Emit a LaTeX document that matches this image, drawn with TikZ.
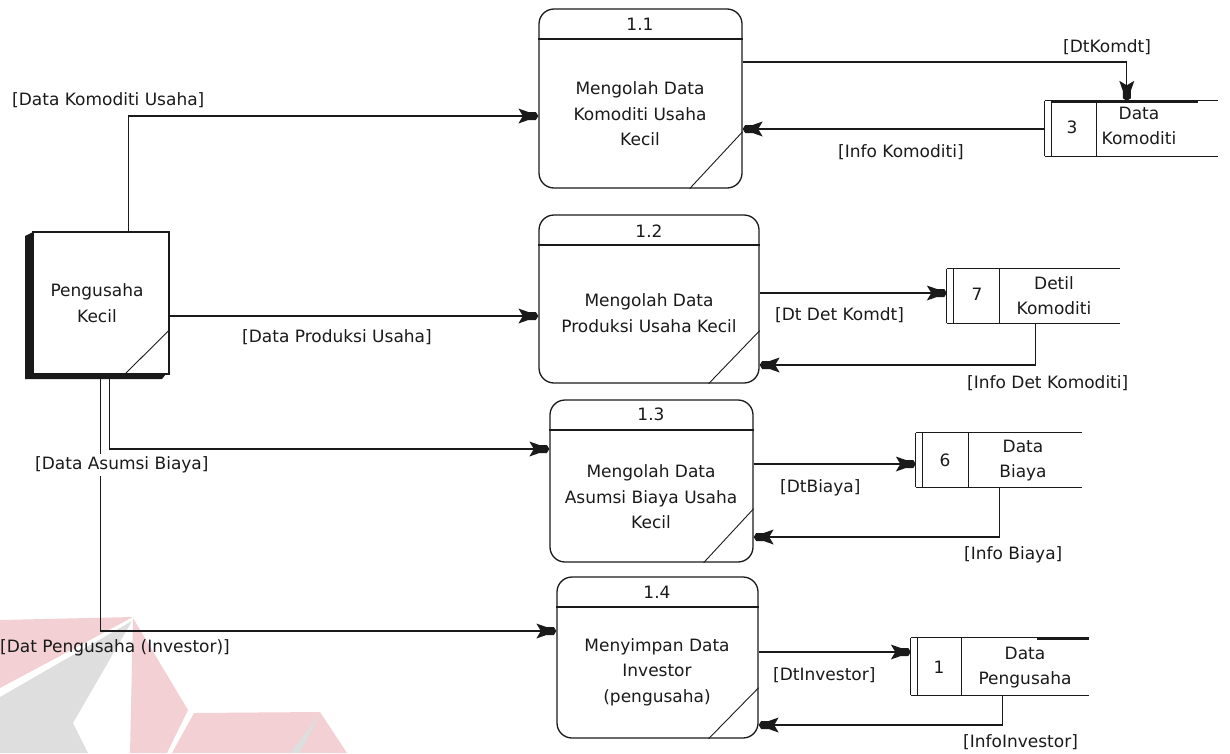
\documentclass[tikz,border=0pt]{standalone}
\usepackage{fontspec}
\setmainfont{DejaVu Sans}
\usetikzlibrary{arrows.meta}
\definecolor{ink}{HTML}{1A1A1A}
\definecolor{wmpink}{HTML}{F2D0D4}
\definecolor{wmgrey}{HTML}{DEDEDE}
% flow arrow tip: short thick body with flared barbs behind it
\pgfdeclarearrow{
  name = DFDTip,
  setup code = {
    \pgfarrowssettipend{0pt}
    \pgfarrowssetlineend{-7pt}
    \pgfarrowssetbackend{-20pt}
    \pgfarrowsupperhullpoint{0pt}{4pt}
    \pgfarrowsupperhullpoint{-20pt}{7.5pt}
  },
  drawing code = {
    \pgfpathmoveto{\pgfqpoint{0pt}{0pt}}
    \pgfpathlineto{\pgfqpoint{-2.5pt}{4pt}}
    \pgfpathlineto{\pgfqpoint{-10pt}{4pt}}
    \pgfpathlineto{\pgfqpoint{-20pt}{7.5pt}}
    \pgfpathlineto{\pgfqpoint{-15.5pt}{0pt}}
    \pgfpathlineto{\pgfqpoint{-20pt}{-7.5pt}}
    \pgfpathlineto{\pgfqpoint{-10pt}{-4pt}}
    \pgfpathlineto{\pgfqpoint{-2.5pt}{-4pt}}
    \pgfpathclose
    \pgfusepathqfill
  }
}
\tikzset{
  every node/.style={font=\fontsize{17}{25.5}\selectfont, text=ink, inner sep=0pt},
  proc/.style={draw=ink, line width=1.3pt, rounded corners=15pt, rectangle},
  entity/.style={draw=ink, line width=1.3pt, rectangle},
  store/.style={rectangle},
  flow/.style={draw=ink, line width=1.3pt, -DFDTip},
  edge/.style={draw=ink, line width=1.3pt},
  lbl/.style={anchor=west},
  ptext/.style={align=center}
}
% data store outline: open on the right, double left edge, divider after the number
\newcommand{\storeshape}[2]{%
  \draw[edge] (#1.north west) -- (#1.south west);
  \draw[edge] ([xshift=7]#1.north west) -- ([xshift=7]#1.south west);
  \draw[edge] (#1.north west) -- (#1.north east);
  \draw[edge] (#1.south west) -- (#1.south east);
  \draw[edge] ([xshift=#2]#1.north west) -- ([xshift=#2]#1.south west);
}
\begin{document}
\begin{tikzpicture}[x=1pt,y=-1pt]
\useasboundingbox (0,0) rectangle (1230,753);

% faint logo in the lower left corner
\fill[wmpink] (0,620) -- (133,617) -- (30,672) -- (0,688) -- cycle;
\fill[wmgrey] (0,697) -- (132,621) -- (73,723) -- (88,753) -- (0,753) -- cycle;
\fill[wmpink] (133,618) -- (188,710) -- (167,753) -- (130,753) -- cycle;
\fill[wmpink] (194,713) -- (320,712) -- (347,753) -- (172,753) -- cycle;
\fill[wmgrey] (320,714) -- (300,753) -- (290,753) -- cycle;

% external entity
\node[entity, minimum width=136, minimum height=142] (e) at (101,303) {};
\fill[ink] (25,236) -- (33,232) -- (33,374) -- (166,374) -- (162,379) -- (25,379) -- cycle;
\draw[edge, line width=0.9pt] ([xshift=92]e.south west) -- ([yshift=45]e.south east);
\node[ptext] (etxt) at (97,303) {Pengusaha\\Kecil};

% processes
\node[proc, minimum width=203, minimum height=179] (p1) at (640.5,98.5) {};
\node[proc, minimum width=220, minimum height=168] (p2) at (649,299) {};
\node[proc, minimum width=203, minimum height=162] (p3) at (651.5,481) {};
\node[proc, minimum width=201, minimum height=161] (p4) at (657.5,657.5) {};

\draw[edge] (p1.west |- 0,39) -- (p1.east |- 0,39);
\draw[edge] (p2.west |- 0,245) -- (p2.east |- 0,245);
\draw[edge] (p3.west |- 0,430) -- (p3.east |- 0,430);
\draw[edge] (p4.west |- 0,607) -- (p4.east |- 0,607);

\draw[edge, line width=0.9pt] ([xshift=-53]p1.south east) -- ([yshift=57]p1.south east);
\draw[edge, line width=0.9pt] ([xshift=-51]p2.south east) -- ([yshift=53]p2.south east);
\draw[edge, line width=0.9pt] ([xshift=-50]p3.south east) -- ([yshift=54]p3.south east);
\draw[edge, line width=0.9pt] ([xshift=-50]p4.south east) -- ([yshift=51]p4.south east);

\node (p1n) at (640,24) {1.1};
\node (p2n) at (649,231) {1.2};
\node (p3n) at (651,414) {1.3};
\node (p4n) at (657,592) {1.4};

\node[ptext] (p1t) at (640,114) {Mengolah Data\\Komoditi Usaha\\Kecil};
\node[ptext] (p2t) at (649,313) {Mengolah Data\\Produksi Usaha Kecil};
\node[ptext] (p3t) at (651,497) {Mengolah Data\\Asumsi Biaya Usaha\\Kecil};
\node[ptext] (p4t) at (657,672) {Menyimpan Data\\Investor\\(pengusaha)};

% data stores
\node[store, minimum width=173, minimum height=55] (s3) at (1131.5,128.5) {};
\node[store, minimum width=173, minimum height=54] (s7) at (1033.5,296) {};
\node[store, minimum width=166, minimum height=54] (s6) at (999,460) {};
\node[store, minimum width=178, minimum height=57] (s1) at (1000,666.5) {};
\storeshape{s3}{52}
\storeshape{s7}{53}
\storeshape{s6}{53}
\storeshape{s1}{51}
\fill[ink] (1051,99.5) rectangle (1198,102.5);
\fill[ink] (1037,636.5) rectangle (1089,639.5);

\node (s3n) at (1072,127) {3};
\node (s7n) at (977,294) {7};
\node (s6n) at (945,460) {6};
\node (s1n) at (939,667) {1};
\node[ptext] (s3t) at (1139,126) {Data\\Komoditi};
\node[ptext] (s7t) at (1054,295.5) {Detil\\Komoditi};
\node[ptext] (s6t) at (1023,460.5) {Data\\Biaya};
\node[ptext] (s1t) at (1025,667.5) {Data\\Pengusaha};

% flows from the entity
\draw[flow] ([xshift=96]e.north west) |- (p1.west |- 0,116);
\draw[flow] (e.east |- 0,316) -- (p2.west |- 0,316);
\draw[flow] ([xshift=77]e.south west) |- (p3.west |- 0,449);
\draw[flow] ([xshift=68]e.south west) |- (p4.west |- 0,631);

% flows between processes and stores
\draw[flow] (p1.east |- 0,62) -| ([xshift=82]s3.north west);
\draw[flow] (s3.west |- 0,129) -- (p1.east |- 0,129);
\draw[flow] (p2.east |- 0,293) -- (s7.west |- 0,293);
\draw[flow] ([xshift=89]s7.south west) |- (p2.east |- 0,365);
\draw[flow] (p3.east |- 0,464) -- (s6.west |- 0,464);
\draw[flow] ([xshift=84]s6.south west) |- (p3.east |- 0,537);
\draw[flow] (p4.east |- 0,652) -- (s1.west |- 0,652);
\draw[flow] ([xshift=92]s1.south west) |- (p4.east |- 0,725);

% flow labels
\node[lbl] (l1) at (12,100) {[Data Komoditi Usaha]};
\node[lbl] (l2) at (242,337) {[Data Produksi Usaha]};
\node[lbl, fill=white, inner ysep=3pt] (l3) at (35,465) {[Data Asumsi Biaya]};
\node[lbl] (l4) at (0,648) {[Dat Pengusaha (Investor)]};
\node (l5) at (1107,47) {[DtKomdt]};
\node[lbl] (l6) at (838,152) {[Info Komoditi]};
\node[lbl] (l7) at (775,315) {[Dt Det Komdt]};
\node[lbl] (l8) at (967,383) {[Info Det Komoditi]};
\node[lbl] (l9) at (780,488) {[DtBiaya]};
\node[lbl] (l10) at (964,555) {[Info Biaya]};
\node[lbl] (l11) at (773,675) {[DtInvestor]};
\node[lbl] (l12) at (963,742) {[InfoInvestor]};
\end{tikzpicture}
\end{document}
